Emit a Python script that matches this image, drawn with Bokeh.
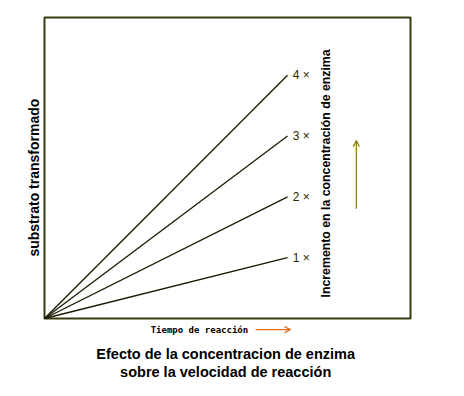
from bokeh.plotting import figure
from bokeh.models import Label, Arrow, OpenHead, Range1d
from bokeh.embed import file_html
from bokeh.resources import INLINE

# data
levels = [1, 2, 3, 4]
level_labels = ["1 ×", "2 ×", "3 ×", "4 ×"]
t_end = 0.664
rate_per_level = 0.202

p = figure(width=448, height=380, output_backend="svg", toolbar_location=None,
           x_range=Range1d(-0.1202, 1.1038), y_range=Range1d(-0.206, 1.0565),
           min_border=0, min_border_left=0, min_border_right=0,
           min_border_top=0, min_border_bottom=0)
p.xaxis.visible = False
p.yaxis.visible = False
p.grid.visible = False
p.outline_line_color = None
p.background_fill_color = "white"
p.border_fill_color = "white"

# plot box
p.quad(left=[0], right=[1], bottom=[0], top=[1], fill_color=None,
       line_color="#3a3a10", line_width=2)

for k, lab in zip(levels, level_labels):
    yend = k * rate_per_level
    p.line([0, t_end], [0, yend], line_color="#1a1a00", line_width=1.3)
    p.add_layout(Label(x=t_end + 0.014, y=yend, text=lab, text_font="Liberation Sans",
                       text_font_size="12px", text_color="#2a2a00", text_baseline="middle"))

p.add_layout(Label(x=-0.030, y=0.468, text="substrato transformado", angle=1.5708,
                   text_font="Liberation Sans", text_font_style="bold", text_font_size="14px",
                   text_align="center", text_baseline="middle", text_color="black"))
p.add_layout(Label(x=0.768, y=0.482, text="Incremento en la concentración de enzima", angle=1.5708,
                   text_font="Liberation Sans", text_font_style="bold", text_font_size="12.3px",
                   text_align="center", text_baseline="middle", text_color="black"))
p.add_layout(Arrow(x_start=0.852, y_start=0.365, x_end=0.852, y_end=0.591,
                   line_color="#8a7a10", line_width=1.2,
                   end=OpenHead(size=6, line_color="#8a7a10", line_width=1.2)))

p.add_layout(Label(x=0.29, y=-0.037, text="Tiempo de reacción", text_font="DejaVu Sans Mono",
                   text_font_style="bold", text_font_size="9px", text_baseline="middle",
                   text_color="black"))
p.add_layout(Arrow(x_start=0.577, y_start=-0.037, x_end=0.672, y_end=-0.037,
                   line_color="#e07020", line_width=1.2,
                   end=OpenHead(size=6, line_color="#e07020", line_width=1.2)))

p.add_layout(Label(x=0.495, y=-0.118, text="Efecto de la concentracion de enzima",
                   text_font="Liberation Sans", text_font_style="bold", text_font_size="14.5px",
                   text_align="center", text_baseline="middle", text_color="black"))
p.add_layout(Label(x=0.495, y=-0.177, text="sobre la velocidad de reacción",
                   text_font="Liberation Sans", text_font_style="bold", text_font_size="14.5px",
                   text_align="center", text_baseline="middle", text_color="black"))

open("out.html", "w").write(file_html(p, INLINE))
